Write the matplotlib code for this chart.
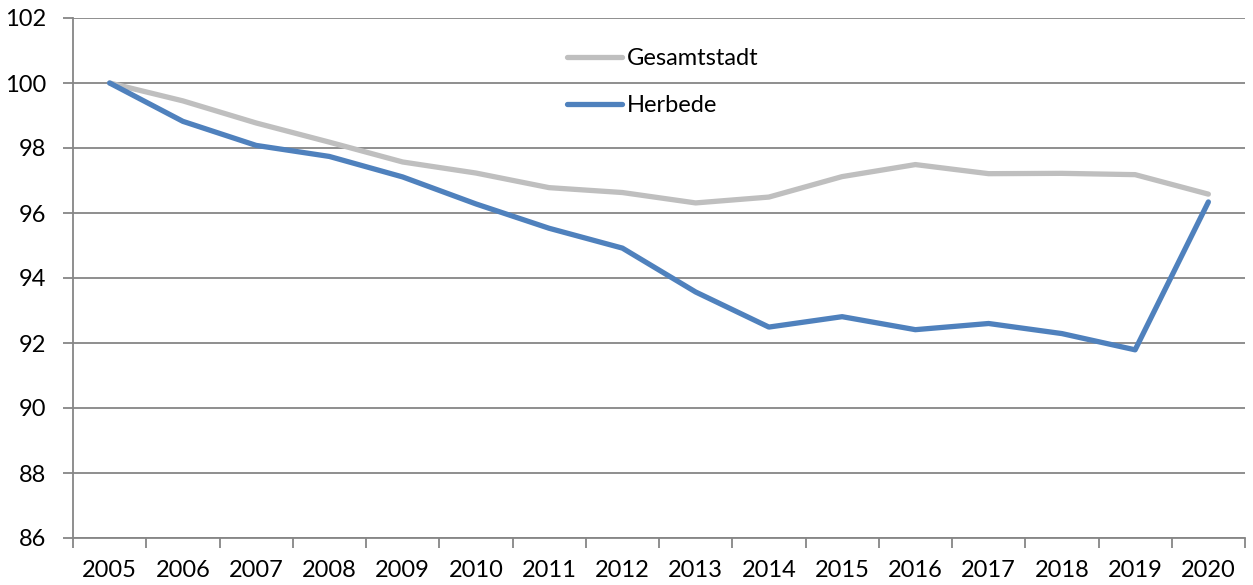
import matplotlib
matplotlib.use("Agg")
import matplotlib.pyplot as plt
import numpy as np

years = ["2005", "2006", "2007", "2008", "2009", "2010", "2011", "2012",
         "2013", "2014", "2015", "2016", "2017", "2018", "2019", "2020"]
gesamtstadt = [100.0, 99.45, 98.77, 98.18, 97.57, 97.23, 96.78, 96.63,
               96.31, 96.49, 97.12, 97.49, 97.21, 97.22, 97.18, 96.58]
herbede = [100.0, 98.82, 98.08, 97.74, 97.11, 96.28, 95.53, 94.92,
           93.57, 92.49, 92.81, 92.41, 92.60, 92.29, 91.79, 96.34]
series_names = ["Gesamtstadt", "Herbede"]
yticks = [86, 88, 90, 92, 94, 96, 98, 100, 102]

plt.rcParams['font.family'] = ['Lato', 'DejaVu Sans']
fs = 17
grid_c = '#868686'

fig = plt.figure(figsize=(12.53, 5.85), dpi=100)
ax = fig.add_axes([73/1253, 1-538/585, (1245-73)/1253, (538-18)/585])

x = np.arange(len(years))
ax.plot(x, gesamtstadt, color='#BFBFBF', lw=3.8, label=series_names[0],
        solid_capstyle='round', solid_joinstyle='round', zorder=3)
ax.plot(x, herbede, color='#4F81BD', lw=3.8, label=series_names[1],
        solid_capstyle='round', solid_joinstyle='round', zorder=4)

ax.set_xlim(-0.5, len(years) - 0.5)
ax.set_ylim(86, 102)
ax.set_yticks(yticks)
ax.set_yticklabels([str(v) for v in yticks], fontsize=fs)
ax.yaxis.grid(True, color=grid_c, lw=1.3)
ax.set_axisbelow(True)

ax.set_xticks(x)
ax.set_xticklabels(years, fontsize=fs)
ax.set_xticks(np.arange(-0.5, len(years)), minor=True)
ax.tick_params(axis='x', which='major', length=0, pad=16)
ax.tick_params(axis='x', which='minor', length=7, width=1.3, color=grid_c)
ax.tick_params(axis='y', length=7, width=1.3, color=grid_c, pad=12)

for s in ['top', 'right']:
    ax.spines[s].set_visible(False)
for s in ['left', 'bottom']:
    ax.spines[s].set_color(grid_c)
    ax.spines[s].set_linewidth(1.3)

leg = ax.legend(loc='upper left', bbox_to_anchor=((558-73)/1172, (538-39)/520),
                frameon=False, fontsize=fs, handlelength=2.3, handletextpad=0.2,
                labelspacing=1.1, borderaxespad=0)
for t in leg.get_texts():
    t.set_color('black')

fig.savefig("out.png", dpi=100)
